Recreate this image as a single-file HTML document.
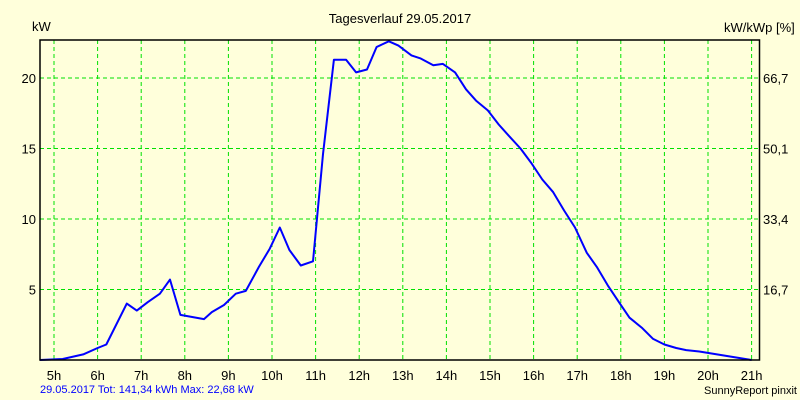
<!DOCTYPE html>
<html><head><meta charset="utf-8"><style>
body{margin:0;background:#FFFFDB;}
svg{display:block;font-family:"Liberation Sans",sans-serif;font-size:13px;}
</style></head><body>
<svg id="c" width="800" height="400">
<rect width="800" height="400" fill="#FFFFDB"/>
<text x="400" y="23" text-anchor="middle">Tagesverlauf 29.05.2017</text>
<text x="32" y="31">kW</text>
<text x="724" y="32">kW/kWp [%]</text>
<g id="grid"></g>
<g id="ticks"></g>
<path id="line" fill="none" stroke="#0000FF" stroke-width="2" stroke-linejoin="round"/>
<rect x="40" y="40" width="719.5" height="320" fill="none" stroke="#000" stroke-width="1.5"/>
<text x="40" y="393" fill="#0000FF" font-size="11">29.05.2017 Tot: 141,34 kWh Max: 22,68 kW</text>
<text x="797" y="394" text-anchor="end" font-size="11">SunnyReport pinxit</text>
</svg>
<script>
const hours=[5,6,7,8,9,10,11,12,13,14,15,16,17,18,19,20,21];
const yTicks=[5,10,15,20];
const yRightLabels=["16,7","33,4","50,1","66,7"];
const times=[4.68,5.2,5.67,6.0,6.2,6.67,6.9,7.15,7.43,7.66,7.9,8.44,8.62,8.9,9.17,9.4,9.7,9.95,10.18,10.4,10.66,10.94,11.17,11.42,11.7,11.93,12.18,12.4,12.68,12.9,13.2,13.4,13.7,13.92,14.2,14.45,14.68,14.95,15.2,15.46,15.7,15.94,16.2,16.45,16.7,16.95,17.22,17.45,17.7,17.98,18.2,18.48,18.74,19.0,19.27,19.5,19.8,20.7,21.0];
const power=[0,0.07,0.4,0.85,1.1,4.0,3.5,4.1,4.7,5.7,3.2,2.9,3.4,3.9,4.7,4.9,6.6,7.9,9.4,7.8,6.7,7.0,14.6,21.3,21.3,20.4,20.6,22.2,22.6,22.3,21.6,21.4,20.9,21.0,20.4,19.2,18.4,17.7,16.7,15.8,15.0,14.0,12.8,11.9,10.6,9.4,7.6,6.6,5.3,4.0,3.0,2.3,1.5,1.1,0.85,0.7,0.6,0.15,0];
const X=h=>54+43.6*(h-5);
const Y=v=>360-14.1*v;
const NS="http://www.w3.org/2000/svg";
const grid=document.getElementById('grid'),ticks=document.getElementById('ticks');
function mk(tag,attrs,parent){const e=document.createElementNS(NS,tag);for(const k in attrs)e.setAttribute(k,attrs[k]);parent.appendChild(e);return e;}
hours.forEach(h=>{
  const l=mk('line',{x1:X(h),x2:X(h),y1:40,y2:360,stroke:'#00E000','stroke-width':1,'stroke-dasharray':'4,3'},grid);
  
  
  const t=mk('text',{x:X(h),y:380,'text-anchor':'middle'},ticks);t.textContent=h+'h';
  
  
});
yTicks.forEach((v,i)=>{
  const l=mk('line',{x1:40,x2:759,y1:Y(v),y2:Y(v),stroke:'#00E000','stroke-width':1,'stroke-dasharray':'4,3'},grid);
  
  
  const t=mk('text',{x:36,y:Y(v)+5,'text-anchor':'end'},ticks);t.textContent=v;
  
  
  const r=mk('text',{x:763,y:Y(v)+5},ticks);r.textContent=yRightLabels[i];
  
  
});
document.getElementById('line').setAttribute('d',times.map((t,i)=>(i?'L':'M')+X(t).toFixed(1)+','+Y(power[i]).toFixed(1)).join(''));
</script>
</body></html>
